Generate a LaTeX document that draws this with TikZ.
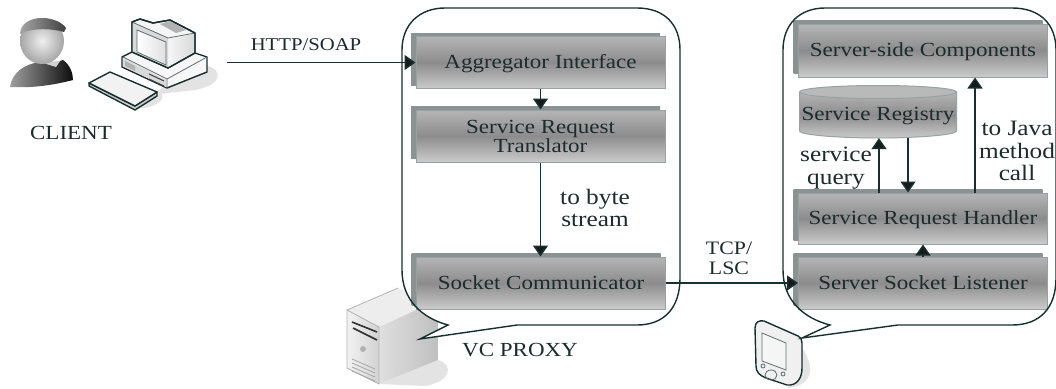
\documentclass[tikz,border=0pt]{standalone}
\usepackage{fontspec}
\setmainfont[FakeStretch=1.15]{Liberation Serif}
\usetikzlibrary{arrows.meta,shadows}
\definecolor{ink}{HTML}{17302F}
\definecolor{txt}{HTML}{1E2B2B}
\definecolor{pback}{HTML}{8B9392}
\definecolor{pedge}{HTML}{97A3A2}
\definecolor{ptop}{HTML}{B5B5B5}
\definecolor{pmid}{HTML}{8C8C8C}
\definecolor{pbot}{HTML}{CBCBCB}
\newcommand{\fs}[1]{\fontsize{#1}{#1}\selectfont}
\tikzset{
  x=1pt,y=-1pt,
  panel/.style={draw=pedge,line width=1pt,top color=ptop,bottom color=pbot,middle color=pmid,
    inner sep=0pt,minimum width=249pt,minimum height=52pt,align=center,text=txt,
    font=\fs{20},copy shadow={shadow xshift=-5pt,shadow yshift=3.5pt,fill=pback,draw=none,top color=pback,bottom color=pback,middle color=pback}},
  panel one/.style={panel,text height=14pt,text depth=2pt},
  lab/.style={inner sep=0pt,text=txt,align=center,font=\fs{22}},
  caps/.style={inner sep=0pt,text=txt,align=center,font=\fs{20}},
  conn/.style={draw=ink,line width=1.5pt,-{Triangle[length=11pt,width=15pt,fill=black!90]}},
  bubble/.style={draw=ink,line width=1.4pt,line join=miter},
  icon/.style={draw=ink,line width=1.4pt,line join=round},
  thin icon/.style={draw=ink!70,line width=.8pt},
}
\begin{document}
\begin{tikzpicture}
\useasboundingbox (0,0) rectangle (1056,388);
% ---- person
\shade[left color=gray!75,right color=black!95] (10,87) .. controls (12,72) and (25,64) .. (40,62) -- (50,64) -- (63,60) .. controls (70,65) and (73,73) .. (73,80) .. controls (50,86) and (30,88) .. (10,87) -- cycle;
\fill[gray!35] (40,62) -- (60,61) -- (56,67) -- cycle;
\shade[inner color=gray!12,outer color=gray!70] (42,41) ellipse [x radius=22,y radius=23];
\shade[left color=gray!70,right color=black!75] (20,34) .. controls (20,24) and (30,18) .. (42,18) .. controls (52,18) and (62,22) .. (66,28) -- (64,32) .. controls (50,28) and (30,28) .. (20,34) -- cycle;
% ---- computer
\fill[gray!22] (150,95) -- (205,65) .. controls (225,70) and (222,85) .. (195,90) -- cycle;
\fill[gray!22] (135,108) -- (160,92) .. controls (170,100) and (150,110) .. (135,108) -- cycle;
\draw[icon,fill=gray!6] (122,57) -- (132,52) -- (195,53) -- (207,57) -- (207,72) -- (167,88) -- (122,67) -- cycle;
\fill[gray!30] (123,58) -- (166,80) -- (166,87) -- (123,66) -- cycle;
\draw[thin icon] (167,79) -- (207,57) (123,57) -- (167,79) -- (167,88);
\fill[gray!60] (125,61) -- (135,66) -- (135,71) -- (125,66) -- cycle;
\draw[draw=black!75,line width=1pt] (149,74) -- (164,81) (149,79) -- (164,86);
\draw[icon,fill=gray!8] (132,22) -- (140,19) -- (153,23) -- (170,20) -- (195,33) -- (195,53) -- (168,68) -- (132,52) -- cycle;
\fill[gray!30] (132,22) -- (168,38) -- (168,68) -- (132,52) -- cycle;
\shade[left color=white,right color=gray!25] (137,30) -- (166,42) -- (166,65) -- (137,52) -- cycle;
\draw[thin icon] (137,30) -- (166,42) -- (166,65) -- (137,52) -- cycle;
\shade[left color=gray!8,right color=gray!30] (169,39) -- (194,34) -- (194,52) -- (169,67) -- cycle;
\fill[gray!60] (160,24) -- (170,21) -- (186,30) -- (176,33) -- cycle;
\draw[thin icon] (132,22) -- (168,38) -- (195,33);
\draw[icon] (132,22) -- (132,52) -- (168,68) -- (195,53) -- (195,33) -- (170,20) -- (153,23) -- (140,19) -- cycle;
\draw[icon,fill=gray!40] (89,83) -- (135,106) -- (157,92) -- (157,96) -- (135,110) -- (89,86) -- cycle;
\draw[icon,fill=gray!10] (110,72) -- (157,92) -- (135,106) -- (89,83) -- cycle;
% ---- server
\fill[gray!22] (379,384) -- (438,360) .. controls (455,365) and (450,382) .. (425,386) -- cycle;
\fill[gray!14] (347,310) -- (398,288) -- (438,300) -- (379,327) -- cycle;
\shade[left color=gray!10,right color=gray!35] (347,310) -- (379,327) -- (379,384) -- (347,368) -- cycle;
\shade[left color=gray!25,right color=gray!50] (379,327) -- (438,300) -- (438,360) -- (379,384) -- cycle;
\draw[draw=gray!60,line width=.8pt] (347,310) -- (398,288) (347,310) -- (379,327) -- (379,384) -- (347,368) -- cycle;
\draw[draw=black!80,line width=1.6pt] (352,322) -- (377,332) (353,328) -- (377,340);
\fill[gray!60] (363,349) circle [radius=3];
\draw[draw=gray!70,line width=.8pt] (352,359) -- (375,369) (352,363) -- (375,373) (352,367) -- (375,377) (352,371) -- (375,381);
% ---- PDA
\fill[gray!22] (800,345) .. controls (815,365) and (815,385) .. (788,388) -- cycle;
\draw[icon,fill=gray!12] (755,328) .. controls (755,322) and (759,320) .. (764,321) -- (798,336) .. controls (801,338) and (802,340) .. (802,343) -- (802,368) .. controls (802,378) and (797,386) .. (787,385) -- (766,378) .. controls (759,375) and (756,372) .. (756,366) -- cycle;
\draw[thin icon,fill=gray!8] (762,333) -- (786,343) -- (786,370) -- (762,361) -- cycle;
\draw[thin icon] (771,375) ellipse [x radius=6,y radius=5] (763,366) circle [radius=2] (783,374) circle [radius=2];
% ---- bubble interiors
\path[fill=white] (445,8) -- (637,8) .. controls (664,8) and (680,24) .. (680,50) -- (680,278) .. controls (680,308) and (664,325) .. (637,325) -- (517,325) -- (420,339) -- (448,325) .. controls (422,318) and (402,300) .. (402,270) -- (402,50) .. controls (402,24) and (420,8) .. (445,8) -- cycle;
\path[fill=white] (825,8) -- (1012,8) .. controls (1040,8) and (1056,24) .. (1056,50) -- (1056,278) .. controls (1056,308) and (1040,325) .. (1012,325) -- (898,325) -- (802,338) -- (830,325) .. controls (803,318) and (783,300) .. (783,270) -- (783,50) .. controls (783,24) and (800,8) .. (825,8) -- cycle;
% ---- panels
\node[panel one] (agg) at (540.5,62.5) {Aggregator Interface};
\node[panel] (trans) at (540.5,136) {Service Request\\[-1pt]Translator};
\node[panel one] (sock) at (541,283) {Socket Communicator};
\node[panel one,minimum height=53pt] (ssc) at (923,50.5) {Server-side Components};
\node[panel one,minimum height=51pt] (hand) at (923,218.5) {Service Request Handler};
\node[panel one] (list) at (923,283) {Server Socket Listener};
\shade[top color=ptop,bottom color=pbot,middle color=pmid,draw=pedge,line width=1pt] (799.5,92) -- (799.5,131) .. controls (799.5,135) and (840,138) .. (878,138) .. controls (916,138) and (956.5,135) .. (956.5,131) -- (956.5,92) -- cycle;
\filldraw[draw=pedge,line width=1pt,fill=gray!55] (878,92) ellipse [x radius=78.5,y radius=6.5];
\node[inner sep=0pt,minimum width=158pt,minimum height=44pt,text=txt,font=\fs{20}] (reg) at (878,116) {Service Registry};
% ---- bubble outlines
\draw[bubble] (445,8) -- (637,8) .. controls (664,8) and (680,24) .. (680,50) -- (680,278) .. controls (680,308) and (664,325) .. (637,325) -- (517,325) -- (420,339) -- (448,325) .. controls (422,318) and (402,300) .. (402,270) -- (402,50) .. controls (402,24) and (420,8) .. (445,8) -- cycle;
\draw[bubble] (825,8) -- (1012,8) .. controls (1040,8) and (1056,24) .. (1056,50) -- (1056,278) .. controls (1056,308) and (1040,325) .. (1012,325) -- (898,325) -- (802,338) -- (830,325) .. controls (803,318) and (783,300) .. (783,270) -- (783,50) .. controls (783,24) and (800,8) .. (825,8) -- cycle;
% ---- labels
\node[inner sep=0pt,text=txt,font=\fs{18}] (http) at (306,45) {HTTP/SOAP};
\node[caps] (client) at (71,133) {CLIENT};
\node[caps] (vc) at (520,350) {VC PROXY};
\node[lab] (byte) at (595,208) {to byte\\[.5pt]stream};
\node[inner sep=0pt,text=txt,align=center,font=\fs{19}] (tcp) at (729,258) {TCP/\\[1pt]LSC};
\node[lab] (sq) at (836,168) {service\\[1pt]query};
\node[lab] (java) at (1017,151) {to Java\\[.5pt]method\\[.5pt]call};
% ---- connectors
\coordinate (start) at (227,62.5);
\coordinate (xa) at (879,0);
\coordinate (xb) at (908,0);
\coordinate (xc) at (975,0);
\draw[conn] (start) -- (agg.west);
\draw[conn] (agg.south) -- (trans.north);
\draw[conn] (trans.south) -- (sock.north -| trans.south);
\draw[conn] (sock.east) -- (list.west);
\draw[conn] (list.north) -- (hand.south);
\draw[conn] (hand.north -| xa) -- (reg.south -| xa);
\draw[conn] (reg.south -| xb) -- (hand.north -| xb);
\draw[conn] (hand.north -| xc) -- (ssc.south -| xc);
\end{tikzpicture}
\end{document}
